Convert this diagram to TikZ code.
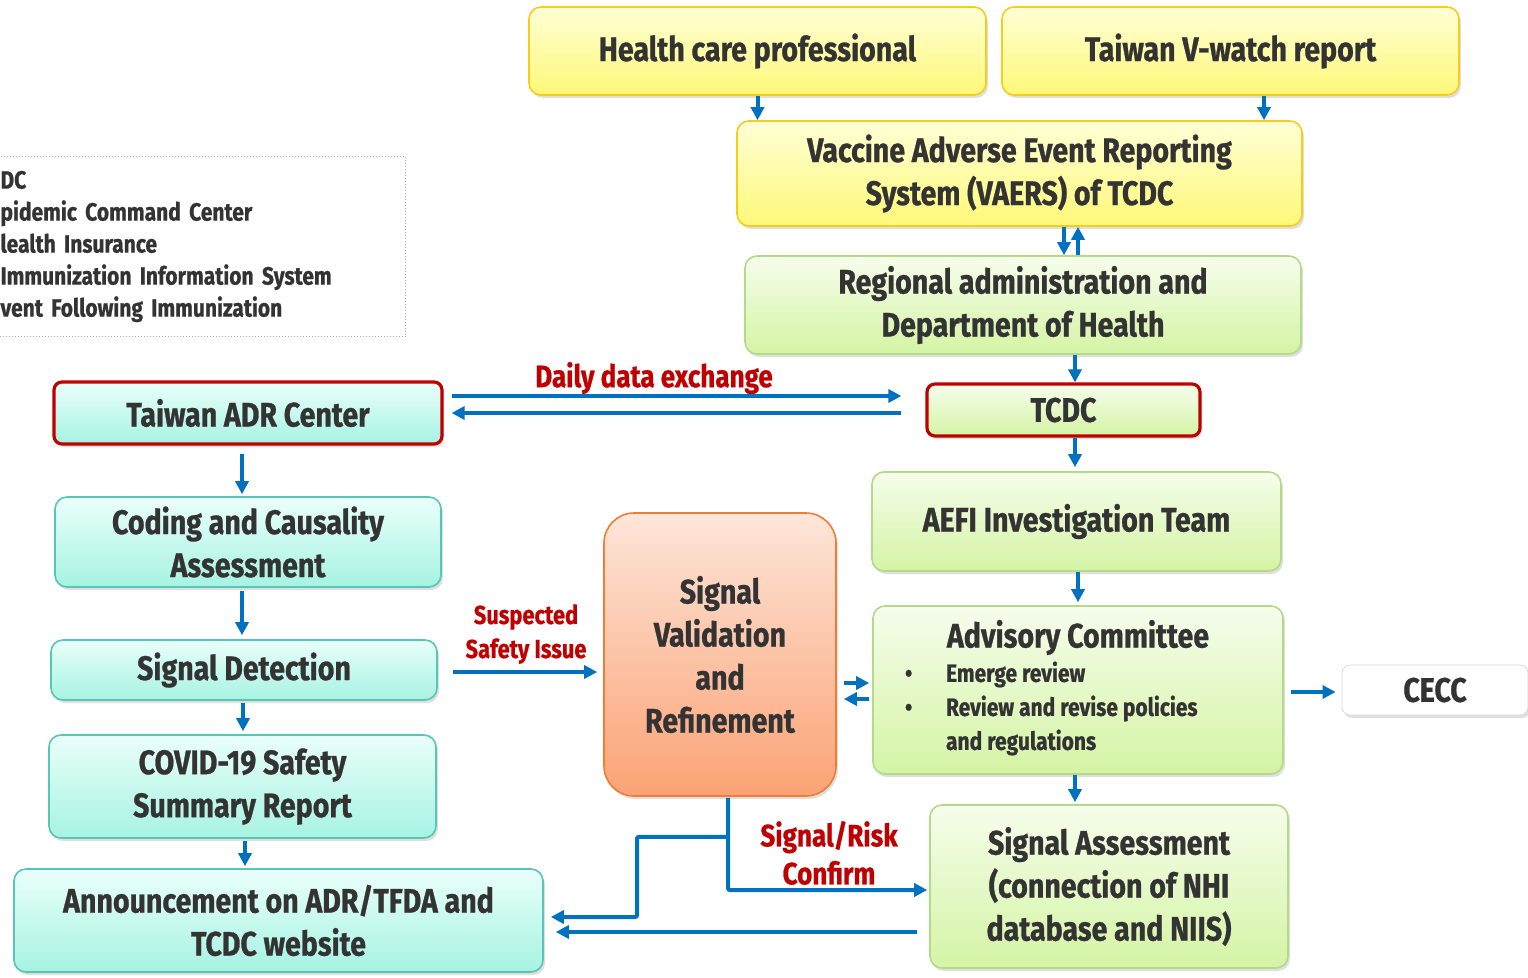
\documentclass[tikz,border=0pt]{standalone}
\usepackage{fontspec}
\setmainfont{Fira Sans}[FakeStretch=0.84, BoldFeatures={FakeBold=0.8}]
\usetikzlibrary{arrows.meta,shadows}
\definecolor{txt}{HTML}{333333}
\definecolor{redlab}{HTML}{C00000}
\definecolor{arrblue}{HTML}{0070C0}
\definecolor{yTop}{HTML}{FFFFD6}
\definecolor{yBot}{HTML}{FFF878}
\definecolor{yBrd}{HTML}{F8CC1C}
\definecolor{gTop}{HTML}{F6FDEC}
\definecolor{gBot}{HTML}{D4F4A4}
\definecolor{gBrd}{HTML}{B2DA88}
\definecolor{cTop}{HTML}{EAFFFA}
\definecolor{cBot}{HTML}{A6F3E2}
\definecolor{cBrd}{HTML}{58C6B4}
\definecolor{oTop}{HTML}{FDE6DA}
\definecolor{oBot}{HTML}{FBA274}
\definecolor{oBrd}{HTML}{F07C36}
\begin{document}
\begin{tikzpicture}[x=1pt,y=-1pt,
  box/.style={rounded corners=12pt, line width=1.6pt, align=center, text=txt,
    font=\fontsize{34}{43}\selectfont\bfseries, inner sep=0pt,
    drop shadow={opacity=0.25, shadow xshift=2pt, shadow yshift=-3pt}},
  ybox/.style={box, draw=yBrd, top color=yTop, bottom color=yBot},
  gbox/.style={box, draw=gBrd, top color=gTop, bottom color=gBot},
  cbox/.style={box, draw=cBrd, top color=cTop, bottom color=cBot},
  redbrd/.style={draw=redlab, line width=3.2pt, rounded corners=8pt},
  arr/.style={draw=arrblue, line width=4pt, -{Triangle[length=13pt,width=13pt]}},
  redtxt/.style={text=redlab, align=center, font=\fontsize{31}{38}\selectfont\bfseries, inner sep=0pt},
  sz/.style n args={2}{minimum width=#1, minimum height=#2}
]
\useasboundingbox (0,0) rectangle (1528,977);

% legend
\node[draw=black!35, dotted, line width=1pt, anchor=north west, inner xsep=10pt, inner ysep=0pt,
  text width=395pt, minimum height=180pt, align=left, text=txt,
  font=\fontsize{25}{32}\selectfont\bfseries] (legend) at (-10,156)
  {DC\\pidemic Command Center\\lealth Insurance\\Immunization Information System\\vent Following Immunization};

% top
\node[ybox, sz={457pt}{88pt}] (hcp) at (757.5,51) {Health care professional};
\node[ybox, sz={457pt}{88pt}] (vw) at (1230.5,51) {Taiwan V-watch report};
\node[ybox, sz={565pt}{105pt}] (vaers) at (1019.5,173.5) {Vaccine Adverse Event Reporting\\System (VAERS) of TCDC};
\node[gbox, sz={556pt}{98pt}] (reg) at (1023,305) {Regional administration and\\Department of Health};
\node[gbox, redbrd, sz={273pt}{52pt}] (tcdc) at (1063.5,410) {TCDC};
\node[cbox, redbrd, sz={388pt}{62pt}] (adr) at (248,413) {Taiwan ADR Center};
\node[gbox, sz={409pt}{99pt}] (aefi) at (1076.5,521.5) {AEFI Investigation Team};
\node[gbox, sz={410pt}{168pt}] (adv) at (1078,690) {Advisory Committee\\[2pt]
  {\fontsize{25}{34}\selectfont\begin{tabular}{@{}p{41pt}@{}p{305pt}@{}}
  • & Emerge review\\ • & Review and revise policies\\ & and regulations\end{tabular}}};
\node[box, draw=white!85!black, line width=0.8pt, fill=white, sz={186pt}{50pt}, rounded corners=8pt] (cecc) at (1435,690) {CECC};
\node[gbox, sz={358pt}{163pt}] (sa) at (1109,886.5) {Signal Assessment\\(connection of NHI\\database and NIIS)};
\node[box, draw=oBrd, top color=oTop, bottom color=oBot, rounded corners=30pt, sz={232pt}{283pt}] (sv) at (720,654.5) {Signal\\Validation\\and\\Refinement};
\node[cbox, sz={386pt}{90pt}] (cod) at (248,542) {Coding and Causality\\Assessment};
\node[cbox, sz={386pt}{60pt}] (sd) at (244,670) {Signal Detection};
\node[cbox, sz={387pt}{103pt}] (covid) at (242.5,786.5) {COVID-19 Safety\\Summary Report};
\node[cbox, sz={529pt}{103pt}] (ann) at (278.5,920.5) {Announcement on ADR/TFDA and\\TCDC website};

% labels
\node[redtxt] (lbdaily) at (654,378) {Daily data exchange};
\node[redtxt, font=\fontsize{26}{34}\selectfont\bfseries] (lbsusp) at (526,634) {Suspected\\Safety Issue};
\node[redtxt] (lbconf) at (829,853) {Signal/Risk\\Confirm};

% arrows
\draw[arr] (hcp.south) -- (hcp.south |- vaers.north);
\draw[arr] ([shift={(33.5,0)}]vw.south) -- ([shift={(33.5,0)}]vw.south |- vaers.north);
\draw[arr] ([shift={(44.5,0)}]vaers.south) -- ([shift={(44.5,0)}]vaers.south |- reg.north);
\draw[arr] ([shift={(55,0)}]reg.north) -- ([shift={(55,0)}]reg.north |- vaers.south);
\draw[arr] ([shift={(52,0)}]reg.south) -- ([shift={(11.5,0)}]tcdc.north);
\draw[arr] ([shift={(11.5,0)}]tcdc.south) -- ([shift={(-1.5,-4)}]aefi.north);
\draw[arr] ([shift={(1.5,0)}]aefi.south) -- ([shift={(0,-3)}]adv.north);
\draw[arr] ([shift={(-3,0)}]adv.south) -- ([shift={(-34,-2)}]sa.north);
\draw[arr] ([shift={(7,2)}]adv.east) -- ([shift={(-6,2)}]cecc.west);
\draw[arr] ([shift={(7,28.5)}]sv.east) -- ([shift={(-3,-7)}]adv.west);
\draw[arr] ([shift={(-3,9)}]adv.west) -- ([shift={(7,44.5)}]sv.east);
\draw[arr] ([shift={(8,-17)}]adr.east) -- ([shift={(-24,-14)}]tcdc.west);
\draw[arr] ([shift={(-24,3)}]tcdc.west) -- ([shift={(8,0)}]adr.east);
\draw[arr] ([shift={(-6,8)}]adr.south) -- ([shift={(-6,-2)}]cod.north);
\draw[arr] ([shift={(-6,3)}]cod.south) -- ([shift={(-2,-4)}]sd.north);
\draw[arr] ([shift={(-1,2)}]sd.south) -- ([shift={(0.5,-3)}]covid.north);
\draw[arr] ([shift={(2.5,2)}]covid.south) -- ([shift={(-33.5,-2)}]ann.north);
\draw[arr] ([shift={(15,2)}]sd.east) -- ([shift={(-6,17.5)}]sv.west);
\draw[arr, rounded corners=2pt] ([shift={(8,1)}]sv.south) |- ([shift={(-2,3.5)}]sa.west);
\draw[arr, rounded corners=2pt] ([shift={(8,40)}]sv.south) -- ++(-91,0) |- ([shift={(7,-3.5)}]ann.east);
\draw[arr] ([shift={(-12,45.5)}]sa.west) -- ([shift={(12,11.5)}]ann.east);
\end{tikzpicture}
\end{document}
